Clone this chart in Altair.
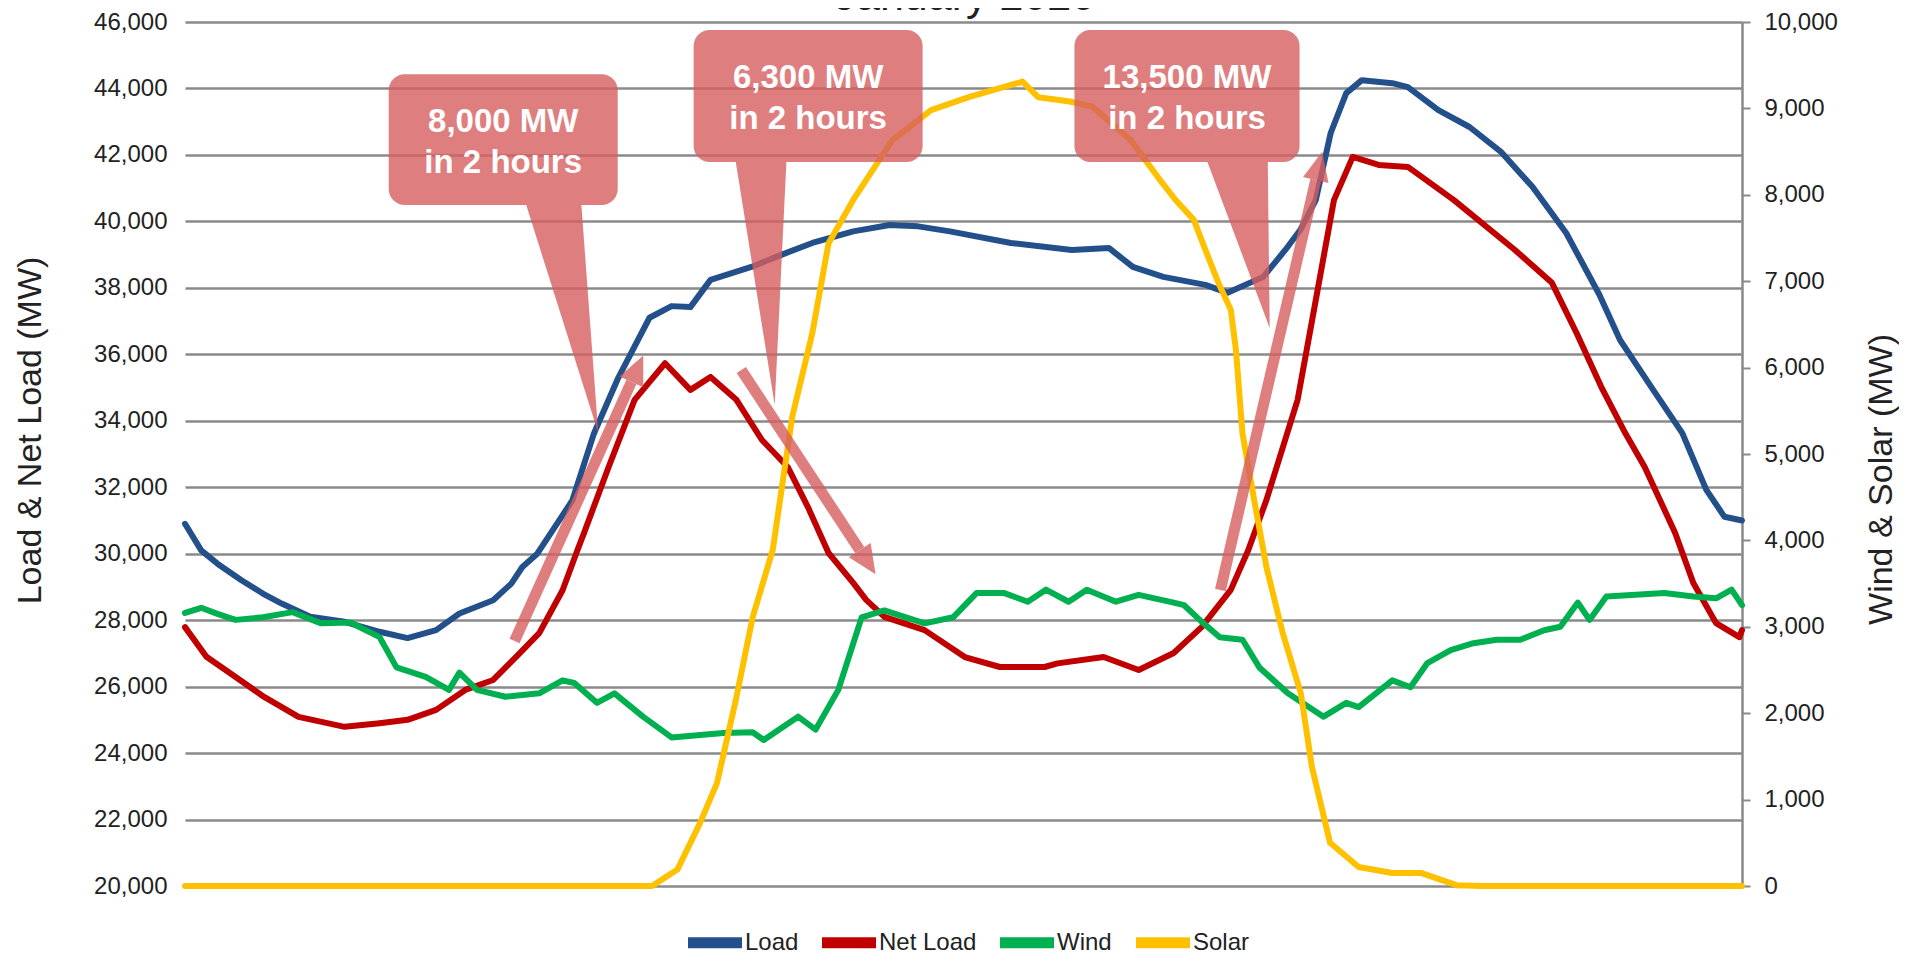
import altair as alt
import pandas as pd

# ---------------- data ----------------
load_hours = [0, 0.25, 0.5, 0.87, 1.2, 1.49, 1.93, 2.46, 3.0, 3.43, 3.87, 4.23, 4.75, 5.03, 5.2, 5.43,
              5.97, 6.3, 6.68, 7.16, 7.5, 7.79, 8.1, 8.73, 9.2, 9.67, 10.3, 10.86, 11.3, 11.79, 12.73,
              13.67, 14.24, 14.61, 15.08, 15.73, 16.07, 16.62, 16.96, 17.19, 17.43, 17.66, 17.9, 18.14,
              18.61, 18.85, 19.32, 19.8, 20.28, 20.77, 21.29, 21.8, 22.12, 22.6, 23.08, 23.45, 23.73, 24.0]
load_mw = [30900, 30100, 29700, 29200, 28800, 28500, 28100, 27950, 27650, 27460, 27700, 28200, 28600,
           29100, 29600, 30000, 31600, 33600, 35300, 37100, 37450, 37420, 38240, 38630, 39000, 39350,
           39700, 39890, 39850, 39700, 39350, 39140, 39200, 38630, 38330, 38090, 37850, 38330, 39140,
           39740, 40640, 42660, 43860, 44250, 44160, 44040, 43350, 42840, 42100, 41040, 39650, 37800,
           36430, 35020, 33630, 31920, 31110, 31000]

net_hours = [0, 0.33, 0.78, 1.22, 1.75, 2.46, 3.0, 3.43, 3.87, 4.32, 4.75, 5.1, 5.46, 5.82, 6.05, 6.15,
             6.53, 6.93, 7.4, 7.79, 8.1, 8.5, 8.89, 9.29, 9.6, 9.92, 10.3, 10.5, 10.78, 11.4, 12.02,
             12.56, 13.25, 13.45, 14.16, 14.7, 15.24, 15.67, 16.12, 16.39, 16.67, 17.15, 17.43, 17.71,
             18.0, 18.4, 18.85, 19.56, 20.5, 21.07, 21.45, 21.83, 22.2, 22.5, 22.97, 23.25, 23.6, 23.96, 24.0]
net_mw = [27790, 26900, 26290, 25690, 25090, 24790, 24900, 25000, 25300, 25900, 26200, 26890, 27610,
          28900, 30110, 30620, 32610, 34630, 35730, 34930, 35320, 34630, 33430, 32610, 31410, 30020,
          29120, 28610, 28100, 27700, 26890, 26590, 26590, 26700, 26890, 26500, 27010, 27790, 28910,
          30110, 31620, 34630, 37630, 40640, 41940, 41700, 41640, 40640, 39140, 38150, 36640, 35020,
          33630, 32610, 30620, 29120, 27910, 27490, 27700]

wind_hours = [0, 0.25, 0.5, 0.78, 1.2, 1.66, 2.1, 2.55, 3.0, 3.26, 3.71, 4.07, 4.23, 4.5, 4.94, 5.46,
              5.82, 6.0, 6.35, 6.62, 7.06, 7.5, 8.3, 8.75, 8.92, 9.45, 9.72, 10.07, 10.43, 10.78, 11.4,
              11.84, 12.2, 12.63, 12.99, 13.27, 13.62, 13.9, 14.35, 14.7, 15.24, 15.4, 15.67, 15.95,
              16.3, 16.56, 17.0, 17.55, 17.9, 18.09, 18.61, 18.89, 19.15, 19.51, 19.86, 20.22, 20.58,
              20.95, 21.2, 21.47, 21.65, 21.91, 22.36, 22.8, 23.25, 23.6, 23.84, 24.0]
wind_mw = [3160, 3220, 3150, 3080, 3110, 3170, 3040, 3050, 2880, 2530, 2420, 2270, 2470, 2270, 2190,
           2230, 2380, 2350, 2120, 2230, 1960, 1720, 1770, 1780, 1690, 1960, 1810, 2270, 3110, 3190,
           3040, 3110, 3390, 3390, 3290, 3430, 3290, 3430, 3290, 3370, 3280, 3250, 3060, 2880, 2850,
           2530, 2230, 1960, 2120, 2070, 2380, 2300, 2580, 2730, 2810, 2850, 2850, 2960, 3000, 3280,
           3080, 3350, 3370, 3390, 3350, 3330, 3430, 3250]

solar_hours = [0, 3.0, 7.0, 7.2, 7.59, 7.94, 8.2, 8.49, 8.75, 9.06, 9.36, 9.67, 9.92, 10.3, 10.9, 11.5,
               12.08, 12.91, 13.15, 13.64, 13.99, 14.58, 15.06, 15.27, 15.55, 15.73, 15.93, 16.12, 16.2,
               16.3, 16.48, 16.67, 16.92, 17.2, 17.37, 17.65, 18.09, 18.61, 19.06, 19.6, 20.0, 24.0]
solar_mw = [0, 0, 0, 0, 190, 730, 1190, 2150, 3110, 3890, 5430, 6400, 7440, 7940, 8630, 8980, 9130,
            9310, 9130, 9080, 9020, 8630, 8140, 7940, 7710, 7360, 6980, 6670, 6200, 5240, 4470, 3690,
            2930, 2230, 1380, 500, 220, 150, 150, 10, 0, 0]

series_names = ["Load", "Net Load", "Wind", "Solar"]
series_colors = ["#23508a", "#c00000", "#00b050", "#ffc000"]

tick_hours = [0, 1.5, 3, 4.5, 6, 7.5, 9, 10.5, 12, 13.5, 15, 16.5, 18, 19.5, 21, 22.5, 24]
left_ticks = [20000, 22000, 24000, 26000, 28000, 30000, 32000, 34000, 36000, 38000, 40000, 42000,
              44000, 46000]
right_ticks = [0, 1000, 2000, 3000, 4000, 5000, 6000, 7000, 8000, 9000, 10000]

# callout boxes (hours / MW on the left axis)
box_start_h = [3.14, 7.84, 13.71]
box_end_h = [6.67, 11.37, 17.18]
box_low_mw = [40490, 41790, 41790]
box_high_mw = [44430, 45760, 45760]
box_labels = ["8,000 MW\nin 2 hours", "6,300 MW\nin 2 hours", "13,500 MW\nin 2 hours"]

# callout pointers: base (left/right hour at box bottom) and tip
ptr_base_lo_h = [5.26, 8.49, 15.76]
ptr_base_hi_h = [6.11, 9.27, 16.69]
ptr_tip_h = [6.37, 9.09, 16.72]
ptr_tip_mw = [33630, 34475, 36790]

# ramp arrows: tail, head base, head angle
arr_tail_h = [5.08, 8.575, 15.96]
arr_tail_mw = [27370, 35530, 28910]
arr_head_h = [6.88, 10.40, 17.43]
arr_head_mw = [35170, 30110, 41245]
arr_angle = [24.3, 146.8, 12.8]

title_text = "January 2020"

# ---------------- build tables ----------------
left_df = pd.concat([
    pd.DataFrame({"hour": load_hours, "mw": load_mw, "series": "Load"}),
    pd.DataFrame({"hour": net_hours, "mw": net_mw, "series": "Net Load"}),
], ignore_index=True)
right_df = pd.concat([
    pd.DataFrame({"hour": wind_hours, "mw": wind_mw, "series": "Wind"}),
    pd.DataFrame({"hour": solar_hours, "mw": solar_mw, "series": "Solar"}),
], ignore_index=True)

box_df = pd.DataFrame({
    "h1": box_start_h, "h2": box_end_h, "m1": box_low_mw, "m2": box_high_mw, "label": box_labels,
})
box_df["hc"] = (box_df["h1"] + box_df["h2"]) / 2
box_df["mc"] = (box_df["m1"] + box_df["m2"]) / 2

ptr_rows = []
for i in range(3):
    ptr_rows.append({"id": i, "lo": ptr_base_lo_h[i], "hi": ptr_base_hi_h[i], "mw": box_low_mw[i]})
    ptr_rows.append({"id": i, "lo": ptr_tip_h[i], "hi": ptr_tip_h[i], "mw": ptr_tip_mw[i]})
ptr_df = pd.DataFrame(ptr_rows)

arr_df = pd.DataFrame({"th": arr_tail_h, "tm": arr_tail_mw, "hh": arr_head_h, "hm": arr_head_mw,
                       "angle": arr_angle})

title_df = pd.DataFrame({"hour": [12.02], "mw": [46361], "text": [title_text]})

# ---------------- styling ----------------
FONT = "Liberation Sans"
GRID = "#8a8a8a"
ANN = "#d65e5e"
ANN_OP = 0.8

x_scale = alt.Scale(domain=[0, 24], nice=False, zero=False)
y_left_scale = alt.Scale(domain=[20000, 46000], nice=False, zero=False)
y_right_scale = alt.Scale(domain=[0, 10000], nice=False, zero=False)

x_axis = alt.Axis(
    values=tick_hours, title=None, grid=False,
    labelExpr="floor(datum.value % 24) + ':' + (datum.value % 1 == 0.5 ? '30' : '00')",
    domain=True, domainColor=GRID, domainWidth=2.5,
    ticks=True, tickColor=GRID, tickWidth=2, tickSize=7,
    labelFontSize=24, labelPadding=10, labelColor="#222222",
    labelFlush=False, labelOverlap=False,
)

left_axis = alt.Axis(
    values=left_ticks, format=",d", grid=True, gridColor=GRID, gridWidth=2.5,
    domain=False, ticks=False, labelPadding=18, labelFontSize=24, labelColor="#222222",
    title="Load & Net Load (MW)", titleFontSize=34, titleFontWeight="normal",
    titleColor="#222222", titleAngle=270, titleX=-155, titleY=408,
    titleAlign="center", titleBaseline="middle",
)

right_axis = alt.Axis(
    orient="right", values=right_ticks, format=",d", grid=False,
    domain=True, domainColor=GRID, domainWidth=2.5,
    ticks=True, tickColor=GRID, tickWidth=2, tickSize=8,
    labelPadding=14, labelFontSize=24, labelColor="#222222",
    title="Wind & Solar (MW)", titleFontSize=34, titleFontWeight="normal",
    titleColor="#222222", titleAngle=270, titleX=139, titleY=457,
    titleAlign="center", titleBaseline="middle",
)

color = alt.Color(
    "series:N",
    scale=alt.Scale(domain=series_names, range=series_colors),
    legend=alt.Legend(
        orient="none", legendX=497.5, legendY=888, direction="horizontal", title=None,
        symbolType="stroke", symbolSize=2916, symbolStrokeWidth=11,
        labelFontSize=24, labelOffset={"expr": "-2.5"}, columnPadding=1, labelColor="#222222",
    ),
)

left = alt.Chart(left_df).mark_line(strokeWidth=6, strokeJoin="round", strokeCap="round").encode(
    x=alt.X("hour:Q", scale=x_scale, axis=x_axis),
    y=alt.Y("mw:Q", scale=y_left_scale, axis=left_axis),
    color=color,
)

right = alt.Chart(right_df).mark_line(strokeWidth=6, strokeJoin="round", strokeCap="round").encode(
    x=alt.X("hour:Q", scale=x_scale, axis=None),
    y=alt.Y("mw:Q", scale=y_right_scale, axis=right_axis),
    color=color,
)

boxes = alt.Chart(box_df).mark_rect(cornerRadius=16, color=ANN, opacity=ANN_OP).encode(
    x=alt.X("h1:Q", scale=x_scale, axis=None), x2="h2:Q",
    y=alt.Y("m1:Q", scale=y_left_scale, axis=None), y2="m2:Q",
)

pointers = alt.Chart(ptr_df).mark_area(orient="horizontal", color=ANN, opacity=ANN_OP).encode(
    y=alt.Y("mw:Q", scale=y_left_scale, axis=None),
    x=alt.X("lo:Q", scale=x_scale, axis=None), x2="hi:Q",
    detail="id:N",
)

shafts = alt.Chart(arr_df).mark_rule(color=ANN, opacity=ANN_OP, strokeWidth=11).encode(
    x=alt.X("th:Q", scale=x_scale, axis=None), x2="hh:Q",
    y=alt.Y("tm:Q", scale=y_left_scale, axis=None), y2="hm:Q",
)

heads = alt.Chart(arr_df).mark_point(
    shape="M0,-1L0.45,0L-0.45,0Z", filled=True, size=3364, color=ANN, opacity=ANN_OP, strokeWidth=0,
).encode(
    x=alt.X("hh:Q", scale=x_scale, axis=None),
    y=alt.Y("hm:Q", scale=y_left_scale, axis=None),
    angle=alt.Angle("angle:Q", scale=None),
)

labels = alt.Chart(box_df).mark_text(
    lineBreak="\n", lineHeight=41, fontSize=33, fontWeight="bold", color="white",
    align="center", baseline="middle", font=FONT, dy=-18,
).encode(
    x=alt.X("hc:Q", scale=x_scale, axis=None),
    y=alt.Y("mc:Q", scale=y_left_scale, axis=None),
    text="label:N",
)

title = alt.Chart(title_df).mark_text(
    fontSize=43, color="#222222", align="center", baseline="alphabetic", font=FONT,
).encode(
    x=alt.X("hour:Q", scale=x_scale, axis=None),
    y=alt.Y("mw:Q", scale=y_left_scale, axis=None),
    text="text:N",
)

annotations = alt.layer(boxes, pointers, shafts, heads, labels, title)

chart = alt.layer(left, right, annotations).resolve_scale(y="independent").properties(
    width=1557, height=864,
    autosize=alt.AutoSizeParams(type="none"),
    padding={"left": 177, "top": 14, "right": 157, "bottom": 77},
).configure(font=FONT).configure_view(strokeWidth=0)

chart.save("out.html", embed_options={"renderer": "svg", "actions": False})
